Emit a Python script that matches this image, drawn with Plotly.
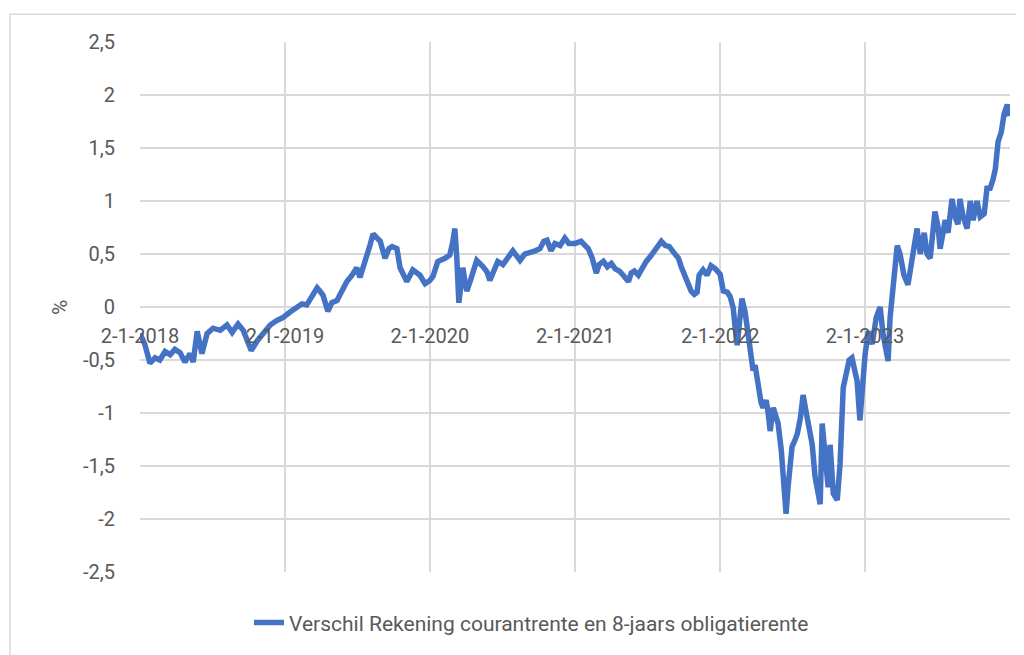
import plotly.graph_objects as go

dates = [
    '2018-01-02', '2018-01-14', '2018-01-27', '2018-02-09', '2018-02-21', '2018-03-06', '2018-03-19',
    '2018-03-31', '2018-04-13', '2018-04-25', '2018-05-08', '2018-05-16', '2018-05-26', '2018-06-02',
    '2018-06-07', '2018-06-20', '2018-07-05', '2018-07-23', '2018-08-09', '2018-08-22', '2018-09-06',
    '2018-09-19', '2018-10-01', '2018-10-09', '2018-10-24', '2018-11-08', '2018-11-26', '2018-12-11',
    '2018-12-28',
    '2019-01-14', '2019-02-01', '2019-02-14', '2019-02-26', '2019-03-11', '2019-03-24', '2019-03-31',
    '2019-04-08', '2019-04-20', '2019-04-30', '2019-05-13', '2019-05-26', '2019-06-07', '2019-06-20',
    '2019-07-02', '2019-07-10', '2019-07-20', '2019-07-28', '2019-08-04', '2019-08-12', '2019-08-22',
    '2019-08-30', '2019-09-11', '2019-09-21', '2019-09-29', '2019-10-11', '2019-10-19', '2019-10-29',
    '2019-11-05', '2019-11-20', '2019-12-08', '2019-12-21',
    '2020-01-02', '2020-01-10', '2020-01-22', '2020-02-09', '2020-02-21', '2020-02-28', '2020-03-05',
    '2020-03-10', '2020-03-15', '2020-03-20', '2020-03-25', '2020-03-30', '2020-04-04', '2020-04-14',
    '2020-04-29', '2020-05-15', '2020-05-25', '2020-06-01', '2020-06-11', '2020-06-21', '2020-07-04',
    '2020-07-14', '2020-07-29', '2020-08-08', '2020-08-16', '2020-08-28', '2020-09-10', '2020-09-23',
    '2020-10-05', '2020-10-15', '2020-10-23', '2020-11-02', '2020-11-12', '2020-11-25', '2020-12-07',
    '2020-12-17',
    '2021-01-02', '2021-01-17', '2021-01-27', '2021-02-04', '2021-02-14', '2021-02-24', '2021-03-03',
    '2021-03-14', '2021-03-24', '2021-04-03', '2021-04-13', '2021-04-23', '2021-05-03', '2021-05-16',
    '2021-05-23', '2021-05-31', '2021-06-10', '2021-06-20', '2021-06-30', '2021-07-13', '2021-07-25',
    '2021-08-07', '2021-08-17', '2021-08-27', '2021-09-06', '2021-09-19', '2021-09-26', '2021-10-04',
    '2021-10-14', '2021-10-21', '2021-10-29', '2021-11-05', '2021-11-10', '2021-11-20', '2021-11-30',
    '2021-12-10', '2021-12-21',
    '2022-01-02', '2022-01-10', '2022-01-20', '2022-01-27', '2022-02-04', '2022-02-09', '2022-02-14',
    '2022-02-21', '2022-02-26', '2022-03-06', '2022-03-11', '2022-03-19', '2022-03-26', '2022-03-31',
    '2022-04-08', '2022-04-15', '2022-04-20', '2022-04-28', '2022-05-03', '2022-05-08', '2022-05-16',
    '2022-05-23', '2022-05-28', '2022-06-05', '2022-06-10', '2022-06-17', '2022-06-22', '2022-06-27',
    '2022-07-02', '2022-07-10', '2022-07-15', '2022-07-23', '2022-07-30', '2022-08-07', '2022-08-14',
    '2022-08-22', '2022-08-29', '2022-09-03', '2022-09-11', '2022-09-16', '2022-09-24', '2022-10-01',
    '2022-10-06', '2022-10-14', '2022-10-24', '2022-10-31', '2022-11-08', '2022-11-15', '2022-11-23',
    '2022-11-30', '2022-12-08', '2022-12-13', '2022-12-20', '2022-12-28',
    '2023-01-02', '2023-01-10', '2023-01-20', '2023-01-30', '2023-02-09', '2023-02-16', '2023-02-24',
    '2023-03-01', '2023-03-06', '2023-03-14', '2023-03-19', '2023-03-24', '2023-03-31', '2023-04-10',
    '2023-04-20', '2023-04-30', '2023-05-13', '2023-05-21', '2023-05-31', '2023-06-07', '2023-06-15',
    '2023-06-27', '2023-07-05', '2023-07-10', '2023-07-23', '2023-07-30', '2023-08-09', '2023-08-17',
    '2023-08-24', '2023-08-29', '2023-09-06', '2023-09-16', '2023-09-24', '2023-10-01', '2023-10-11',
    '2023-10-19', '2023-10-29', '2023-11-05', '2023-11-13', '2023-11-20', '2023-11-26', '2023-12-03',
    '2023-12-11', '2023-12-18', '2023-12-26', '2023-12-31',
]

spread = [
    -0.25, -0.35, -0.53, -0.48, -0.50, -0.42, -0.45,
    -0.40, -0.43, -0.52, -0.44, -0.52, -0.23, -0.35,
    -0.44, -0.25, -0.20, -0.22, -0.17, -0.24, -0.16,
    -0.22, -0.35, -0.41, -0.32, -0.25, -0.17, -0.13,
    -0.10,
    -0.05, -0.01, 0.03, 0.02, 0.10, 0.18, 0.15,
    0.11, -0.04, 0.04, 0.06, 0.16, 0.24, 0.30,
    0.37, 0.28, 0.42, 0.49, 0.58, 0.69, 0.66,
    0.62, 0.46, 0.55, 0.57, 0.55, 0.37, 0.30,
    0.24, 0.35, 0.30, 0.22,
    0.25, 0.29, 0.43, 0.46, 0.49, 0.60, 0.74,
    0.45, 0.04, 0.20, 0.37, 0.25, 0.15, 0.26,
    0.44, 0.38, 0.33, 0.25, 0.36, 0.43, 0.40,
    0.46, 0.53, 0.48, 0.44, 0.50, 0.51, 0.53,
    0.55, 0.62, 0.63, 0.53, 0.60, 0.58, 0.65,
    0.60,
    0.60, 0.62, 0.58, 0.55, 0.46, 0.32, 0.40,
    0.43, 0.38, 0.41, 0.36, 0.34, 0.30, 0.24,
    0.32, 0.34, 0.30, 0.37, 0.43, 0.49, 0.56,
    0.62, 0.58, 0.57, 0.52, 0.46, 0.38, 0.30,
    0.20, 0.15, 0.12, 0.14, 0.30, 0.35, 0.30,
    0.39, 0.36,
    0.31, 0.15, 0.14, 0.10, -0.01, -0.20, -0.36,
    -0.10, 0.08, -0.05, -0.17, -0.36, -0.60, -0.55,
    -0.76, -0.90, -0.95, -0.88, -1.00, -1.17, -0.95,
    -1.05, -1.10, -1.35, -1.60, -1.95, -1.70, -1.45,
    -1.32, -1.25, -1.20, -1.05, -0.83, -1.00, -1.15,
    -1.30, -1.60, -1.70, -1.86, -1.10, -1.50, -1.70,
    -1.30, -1.76, -1.82, -1.48, -0.76, -0.62, -0.50,
    -0.48, -0.60, -0.70, -1.07, -0.60,
    -0.45, -0.23, -0.35, -0.10, 0.00, -0.25, -0.45,
    -0.51, -0.10, 0.20, 0.45, 0.58, 0.50, 0.30,
    0.21, 0.45, 0.74, 0.50, 0.70, 0.50, 0.46,
    0.90, 0.75, 0.55, 0.82, 0.70, 1.02, 0.85,
    0.78, 1.02, 0.85, 0.74, 1.00, 0.82, 1.00,
    0.85, 0.88, 1.12, 1.12, 1.20, 1.30, 1.56,
    1.65, 1.82, 1.91, 1.80,
]

x_ticks = ['2018-01-02', '2019-01-02', '2020-01-02', '2021-01-02', '2022-01-02', '2023-01-02']
x_labels = ['2-1-2018', '2-1-2019', '2-1-2020', '2-1-2021', '2-1-2022', '2-1-2023']
y_ticks = [-2.5, -2, -1.5, -1, -0.5, 0, 0.5, 1, 1.5, 2, 2.5]
y_labels = ['-2,5', '-2', '-1,5', '-1', '-0,5', '0', '0,5', '1', '1,5', '2', '2,5']

grid = '#d9d9d9'
txt = '#595959'

fig = go.Figure()
fig.add_trace(go.Scatter(
    x=dates, y=spread, mode='lines',
    name='Verschil Rekening courantrente en 8-jaars obligatierente',
    line=dict(color='#4472C4', width=5.5),
))

# the page body has an 8px margin, so the figure is 8px smaller than the window
fig.update_layout(
    width=1016, height=647,
    paper_bgcolor='white', plot_bgcolor='white',
    margin=dict(l=132, r=14, t=34, b=80),
    font=dict(family='Roboto, Open Sans, sans-serif', size=20, color=txt),
    showlegend=True,
    legend=dict(orientation='h', x=0.45, y=-0.096, xanchor='center', yanchor='middle',
                font=dict(size=21, color=txt)),
    xaxis=dict(
        range=['2018-01-02', '2024-01-02'],
        tickvals=x_ticks, ticktext=x_labels,
        showgrid=True, gridcolor=grid, gridwidth=1.5,
        showline=False, zeroline=False, ticks='',
        anchor='free', position=0.5, automargin=False,
        ticklabelstandoff=15,
        tickfont=dict(size=20, color=txt),
    ),
    yaxis=dict(
        range=[-2.5, 2.5],
        tickvals=y_ticks, ticktext=y_labels,
        showgrid=True, gridcolor=grid, gridwidth=1.5,
        zeroline=True, zerolinecolor=grid, zerolinewidth=1.5,
        showline=False, ticks='', automargin=False,
        ticklabelstandoff=24,
        tickfont=dict(size=20, color=txt),
    ),
    annotations=[dict(
        text='%', xref='paper', yref='paper', x=-0.092, y=0.5,
        xanchor='center', yanchor='middle',
        showarrow=False, textangle=-90, font=dict(size=21, color=txt),
    )],
    shapes=[dict(
        type='rect', xref='paper', yref='paper',
        x0=-0.1494, y0=-0.3, x1=1.05, y1=1.0525,
        line=dict(color=grid, width=1.5), layer='below',
    )],
)

fig.write_html('out.html')
